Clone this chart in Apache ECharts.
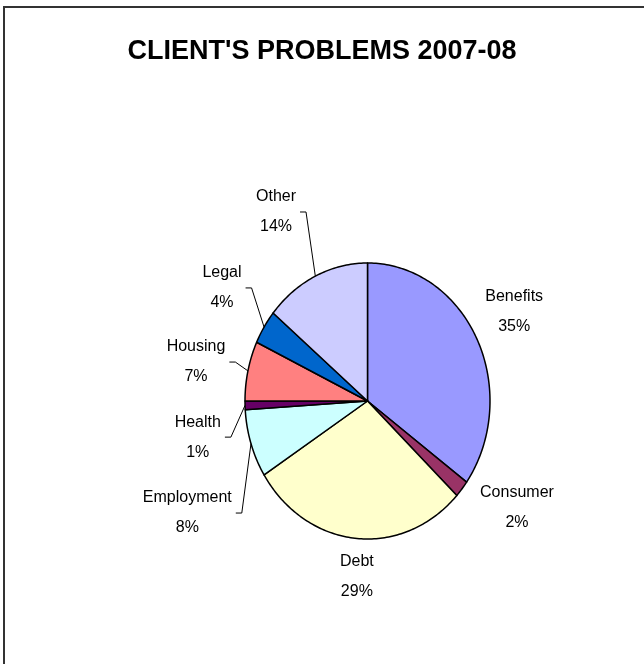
<!DOCTYPE html>
<html>
<head>
<meta charset="utf-8">
<script src="https://cdn.jsdelivr.net/npm/echarts@6/dist/echarts.min.js"></script>
<style>
  html, body { margin: 0; padding: 0; background: #ffffff; }
  #chart { width: 644px; height: 664px; }
</style>
</head>
<body>
<div id="chart"></div>
<script>
// Problem categories and their share of all client problems (percent)
const categories = ['Benefits', 'Consumer', 'Debt', 'Employment', 'Health', 'Housing', 'Legal', 'Other'];
const shares = [35, 2, 29, 8, 1, 7, 4, 14];
const titleText = "CLIENT'S PROBLEMS 2007-08";

// Slice fills (classic office palette)
const sliceColors = ['#9999FF', '#993366', '#FFFFCC', '#CCFFFF', '#660066', '#FF8080', '#0066CC', '#CCCCFF'];

// Label placement: distance from the centre in pie radii, angular nudge in degrees,
// and whether a leader line joins the label to its slice
const labelDist = [1.36, 1.445, 1.278, 1.68, 1.41, 1.428, 1.443, 1.56];
const labelNudge = [-1.3, -7.2, -1.5, -10.9, -8.9, -1.2, 2.2, -3.4];
const labelLeader = [false, false, false, true, true, true, true, true];

const FONT_FAMILY = '"Liberation Sans", Arial, sans-serif';
const LABEL_SIZE = 16;

const total = shares.reduce((a, b) => a + b, 0);
let acc = 0;
const sliceData = shares.map((v, i) => {
  const start = acc;
  acc += v;
  return { name: categories[i], value: [start, acc, v, i] };
});

const measureCtx = document.createElement('canvas').getContext('2d');
measureCtx.font = LABEL_SIZE + 'px ' + FONT_FAMILY;

const toRad = (frac) => frac / total * Math.PI * 2; // clockwise from 12 o'clock
const edgePoint = (api, ang, r) => api.coord([r * Math.sin(ang), r * Math.cos(ang)]);

function renderSlice(params, api) {
  const a0 = toRad(api.value(0));
  const a1 = toRad(api.value(1));
  const idx = api.value(3);
  const pts = [api.coord([0, 0])];
  const steps = Math.max(2, Math.ceil((a1 - a0) / (Math.PI / 180)));
  for (let k = 0; k <= steps; k++) {
    const a = a0 + (a1 - a0) * k / steps;
    pts.push(edgePoint(api, a, 1));
  }
  return {
    type: 'polygon',
    shape: { points: pts },
    style: { fill: sliceColors[idx], stroke: '#000000', lineWidth: 1.5, lineJoin: 'round' }
  };
}

function renderLabel(params, api) {
  const idx = api.value(3);
  const mid = (toRad(api.value(0)) + toRad(api.value(1))) / 2;
  const la = mid + labelNudge[idx] * Math.PI / 180;
  const c = edgePoint(api, la, labelDist[idx]);
  const pct = Math.round(api.value(2) / total * 100) + '%';
  const name = categories[idx];
  const children = [{
    type: 'text',
    x: c[0], y: c[1],
    style: {
      text: name + '\n' + pct,
      fill: '#000000',
      fontSize: LABEL_SIZE,
      fontFamily: FONT_FAMILY,
      lineHeight: 30,
      align: 'center',
      verticalAlign: 'middle'
    }
  }];
  if (labelLeader[idx]) {
    const halfW = Math.max(measureCtx.measureText(name).width, measureCtx.measureText(pct).width) / 2;
    const tip = edgePoint(api, mid, 1);
    const sx = c[0] + halfW + 4;
    children.push({
      type: 'polyline',
      shape: { points: [[sx, c[1]], [sx + 6, c[1]], tip] },
      style: { stroke: '#000000', lineWidth: 1, fill: null }
    });
  }
  return { type: 'group', children: children };
}

const chart = echarts.init(document.getElementById('chart'), null, { renderer: 'canvas' });
chart.setOption({
  animation: false,
  backgroundColor: '#ffffff',
  title: {
    text: titleText,
    left: 'center',
    top: 33,
    textStyle: { fontSize: 27, fontWeight: 'bold', fontFamily: FONT_FAMILY, color: '#000000' }
  },
  graphic: [{
    type: 'rect',
    shape: { x: 4, y: 7, width: 700, height: 700 },
    style: { fill: null, stroke: '#333333', lineWidth: 2 },
    silent: true
  }],
  grid: { left: 245, top: 263, width: 245, height: 276 },
  xAxis: { type: 'value', min: -1, max: 1, show: false },
  yAxis: { type: 'value', min: -1, max: 1, show: false },
  series: [
    {
      type: 'custom',
      name: 'slices',
      clip: false,
      renderItem: renderSlice,
      data: sliceData,
      z: 2
    },
    {
      type: 'custom',
      name: 'labels',
      clip: false,
      renderItem: renderLabel,
      data: sliceData,
      z: 3
    }
  ]
});
</script>
</body>
</html>
